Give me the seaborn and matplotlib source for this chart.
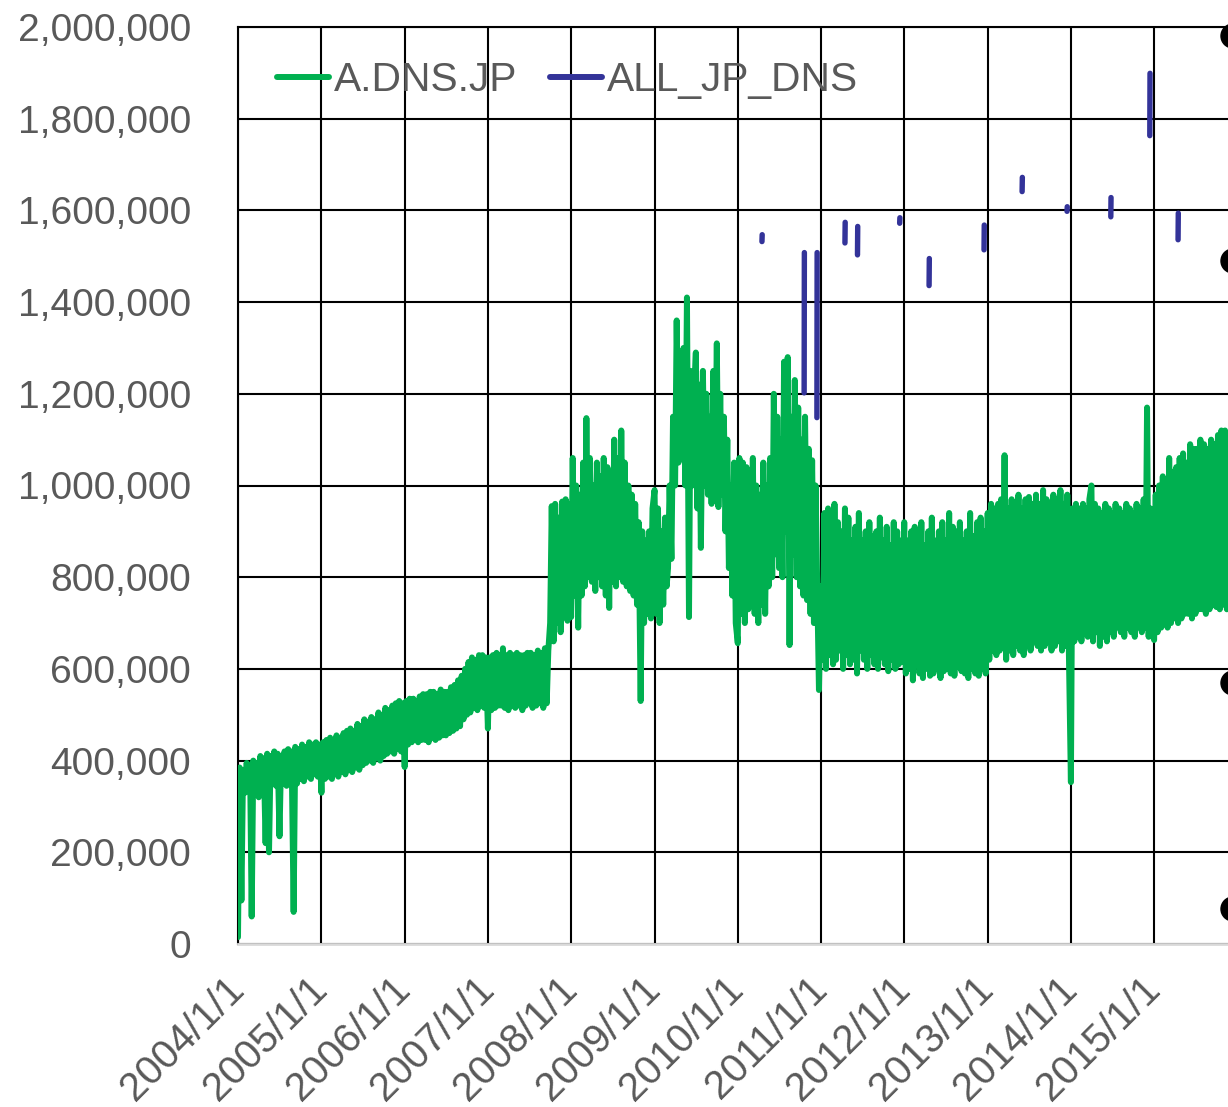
import matplotlib
matplotlib.use('Agg')
import matplotlib.pyplot as plt
from matplotlib.lines import Line2D
from matplotlib.patches import Ellipse
from matplotlib.ticker import FuncFormatter
import pandas as pd
import seaborn as sns

a_2004 = [15, 385, 95, 380, 330, 395, 340, 390, 60, 400, 335, 395, 320, 410, 345, 405,
          220, 415, 200, 410, 350, 420, 345, 415, 235, 410, 350, 420, 345, 425, 355, 420,
          70, 430, 350, 425, 360, 435, 355, 430, 365, 440, 360, 435, 370, 440, 365, 435]
a_2005 = [330, 440, 360, 445, 365, 450, 360, 445, 370, 455, 365, 450, 375, 460, 370, 465,
          380, 470, 375, 465, 385, 480, 380, 475, 390, 490, 395, 485, 400, 495, 395, 490,
          405, 505, 400, 500, 410, 515, 415, 510, 420, 520, 415, 525, 425, 530, 420, 525]
a_2006 = [386, 530, 435, 535, 440, 535, 445, 530, 440, 540, 445, 545, 445, 545, 440, 550,
          450, 550, 445, 545, 450, 555, 455, 550, 455, 550, 460, 560, 465, 565, 470, 575,
          475, 585, 490, 600, 500, 615, 505, 625, 515, 620, 510, 630, 520, 630, 515, 625]
a_2007 = [470, 625, 510, 630, 515, 635, 520, 630, 520, 645, 515, 630, 510, 635, 520, 630,
          515, 635, 520, 630, 510, 630, 520, 635, 525, 635, 515, 630, 520, 640, 525, 635,
          515, 645, 525, 640, 700, 955, 660, 960, 700, 930, 680, 965, 720, 970, 705, 960]
a_2008 = [713, 1060, 760, 1000, 690, 980, 760, 1050, 780, 1147, 800, 1060, 790, 1000, 770, 1050,
          800, 1020, 780, 1060, 760, 1040, 733, 1030, 790, 1100, 780, 1060, 800, 1120, 790, 1050,
          780, 1000, 770, 980, 760, 960, 740, 920, 530, 900, 700, 880, 720, 900, 710, 950]
a_2009 = [990, 720, 950, 700, 900, 740, 930, 780, 820, 1000, 840, 1150, 1000, 1360, 1050, 1250,
          1100, 1300, 1000, 1410, 713, 1250, 1000, 1200, 1290, 950, 1220, 864, 1250, 1000, 1200, 980,
          1150, 960, 1250, 1000, 1310, 953, 1200, 980, 1150, 900, 1100, 820, 1000, 760, 1050, 700]
a_2010 = [656, 1060, 720, 1050, 700, 1040, 730, 1000, 760, 1060, 720, 1000, 700, 980, 740, 1050,
          720, 1000, 780, 1060, 800, 1200, 850, 1150, 820, 1100, 800, 1270, 900, 1280, 652, 1150,
          850, 1230, 800, 1170, 780, 1100, 760, 1150, 750, 1080, 720, 1055, 700, 1000, 760, 554]
a_2011 = [780, 620, 940, 600, 950, 630, 900, 610, 960, 620, 920, 640, 900, 600, 950, 630,
          930, 610, 880, 620, 910, 590, 940, 640, 880, 620, 900, 600, 920, 630, 890, 610,
          900, 600, 930, 625, 880, 610, 910, 595, 870, 620, 920, 600, 900, 610, 880, 615]
a_2012 = [920, 590, 880, 600, 900, 575, 910, 610, 880, 590, 920, 580, 870, 600, 900, 585,
          930, 590, 880, 600, 900, 580, 920, 595, 880, 600, 940, 590, 910, 585, 900, 605,
          920, 595, 880, 590, 900, 580, 940, 600, 890, 590, 920, 585, 930, 600, 900, 590]
a_2013 = [940, 620, 960, 640, 950, 630, 960, 640, 970, 650, 1066, 620, 950, 640, 970, 630,
          960, 650, 980, 640, 950, 630, 970, 650, 975, 640, 960, 660, 980, 650, 960, 640,
          990, 650, 970, 660, 960, 640, 980, 650, 970, 660, 990, 640, 960, 650, 980, 640]
a_2014 = [353, 950, 660, 960, 670, 950, 660, 960, 680, 950, 670, 970, 1000, 660, 960, 680,
          950, 650, 940, 670, 960, 660, 950, 680, 940, 670, 960, 690, 950, 680, 940, 670,
          960, 690, 950, 680, 940, 670, 960, 690, 950, 680, 970, 690, 1170, 670, 950, 680]
a_2015 = [663, 980, 680, 1000, 690, 1020, 700, 1010, 690, 1060, 700, 1030, 710, 1040, 700, 1060,
          710, 1070, 720, 1050, 720, 1090, 710, 1080, 720, 1080, 730, 1100, 730, 1090, 720, 1080,
          730, 1100, 740, 1090, 735, 1110, 730, 1120, 740, 1120, 730]

# ALL_JP_DNS, only a few short bursts
all_dates = ['2010-04-17', '2010-10-19', '2010-12-14', '2011-04-16', '2011-06-10', '2011-12-12', '2012-04-19',
             '2012-12-16', '2013-06-01', '2013-12-15', '2014-06-25', '2014-12-13', '2015-04-16']
all_low = [1532000, 1202000, 1148000, 1529000, 1503000, 1572000, 1436000, 1514000, 1641000, 1598000, 1586000,
           1763000, 1536000]
all_high = [1547000, 1508000, 1508000, 1574000, 1565000, 1584000, 1495000, 1568000, 1672000, 1608000, 1628000,
            1899000, 1594000]

x_tick_labels = ['2004/1/1', '2005/1/1', '2006/1/1', '2007/1/1', '2008/1/1', '2009/1/1',
                 '2010/1/1', '2011/1/1', '2012/1/1', '2013/1/1', '2014/1/1', '2015/1/1']

GREEN = '#00B050'
BLUE = '#333399'
GRAY = '#595959'

sns.set_style('white')
plt.rcParams['font.family'] = ['Liberation Sans', 'DejaVu Sans']

a_values = a_2004 + a_2005 + a_2006 + a_2007 + a_2008 + a_2009 + a_2010 + a_2011 + a_2012 + a_2013 + a_2014 + a_2015
days = pd.date_range('2004-01-01', '2015-12-31', freq='D')
days = days[days.day.isin([1, 8, 16, 23])][:len(a_values)]
a_df = pd.DataFrame({'date': days, 'value': [v * 1000 for v in a_values]})

rows = []
for i, d in enumerate(all_dates):
    rows.append((pd.Timestamp(d), all_low[i], i))
    rows.append((pd.Timestamp(d) + pd.Timedelta(days=1), all_high[i], i))
all_df = pd.DataFrame(rows, columns=['date', 'value', 'seg'])

W, H = 1228, 1107
fig = plt.figure(figsize=(W / 100, H / 100), dpi=100)
ax = fig.add_axes([238 / W, 1 - 944 / H, 1 - 238 / W, (944 - 27) / H])

sns.lineplot(data=a_df, x='date', y='value', estimator=None, sort=False, color=GREEN, lw=4.3,
             solid_capstyle='round', solid_joinstyle='round', ax=ax, zorder=3)
sns.lineplot(data=all_df, x='date', y='value', units='seg', estimator=None, color=BLUE, lw=3.9,
             solid_capstyle='round', ax=ax, zorder=4)

ax.set_xlim(pd.Timestamp('2004-01-01'), pd.Timestamp('2015-11-21'))
ax.set_ylim(0, 2000000)
ax.set_yticks(range(0, 2000001, 200000))
ax.yaxis.set_major_formatter(FuncFormatter(lambda v, p: f'{v:,.0f}'))
ax.set_xticks(pd.to_datetime([s.replace('/1/1', '-01-01') for s in x_tick_labels]), x_tick_labels)
ax.set_xlabel('')
ax.set_ylabel('')

ax.set_axisbelow(True)
ax.grid(True, color='black', lw=1.5)
for side in ['top', 'left']:
    ax.spines[side].set_color('black')
    ax.spines[side].set_linewidth(1.5)
ax.spines['right'].set_visible(False)
ax.spines['bottom'].set_color('#d9d9d9')
ax.spines['bottom'].set_linewidth(2)

ax.tick_params(axis='y', length=0, pad=34, labelsize=28, labelcolor=GRAY)
ax.tick_params(axis='x', length=7, width=1.5, color='#d9d9d9', pad=21, labelsize=29, labelcolor=GRAY)
for lab in ax.get_xticklabels():
    lab.set_rotation(45)
    lab.set_ha('right')
    lab.set_va('center')
    lab.set_rotation_mode('anchor')

handles = [Line2D([], [], color=GREEN, lw=4.3, solid_capstyle='round'),
           Line2D([], [], color=BLUE, lw=4.3, solid_capstyle='round')]
ax.legend(handles, ['A.DNS.JP', 'ALL_JP_DNS'], loc='center left', bbox_to_anchor=(277 / W, 1 - 80 / H),
          bbox_transform=fig.transFigure, ncol=2, frameon=False, fontsize=29.3, labelcolor=GRAY,
          handlelength=1.28, handletextpad=0.12, columnspacing=0.8, borderpad=0, borderaxespad=0)

# selection handles on the right edge
for yy in [36, 261, 683, 909]:
    fig.add_artist(Ellipse((1233 / W, 1 - yy / H), 24 / W, 24 / H, color='black', transform=fig.transFigure))

fig.savefig('out.png', dpi=100)
